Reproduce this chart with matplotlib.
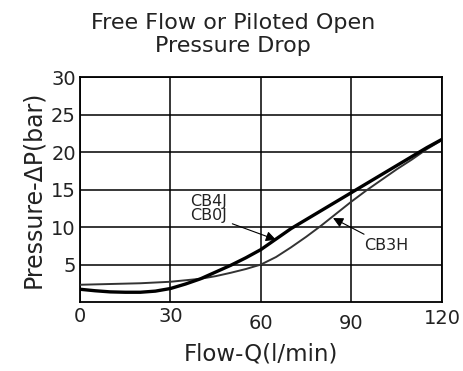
import matplotlib.pyplot as plt

# flow (l/min) and pressure drop (bar)
flow = [0, 5, 10, 15, 20, 25, 30, 35, 40, 45, 50, 55, 60, 65, 70, 75, 80, 85, 90, 95, 100, 105, 110, 115, 120]
dp_cb4j = [1.7, 1.5, 1.35, 1.3, 1.3, 1.45, 1.8, 2.4, 3.1, 4.0, 4.9, 5.9, 7.0, 8.4, 9.8, 11.0, 12.2, 13.4, 14.6, 15.8, 17.0, 18.2, 19.4, 20.6, 21.7]
dp_cb3h = [2.3, 2.35, 2.4, 2.45, 2.5, 2.6, 2.7, 2.9, 3.1, 3.45, 3.9, 4.4, 5.0, 6.0, 7.3, 8.7, 10.2, 11.8, 13.4, 14.9, 16.3, 17.7, 19.0, 20.4, 21.6]

xticks = [0, 30, 60, 90, 120]
yticks = [5, 10, 15, 20, 25, 30]

fig = plt.figure(figsize=(4.64, 3.71), dpi=100)
ax = fig.add_axes([0.1724, 0.186, 0.780, 0.606])

ax.plot(flow, dp_cb3h, color='#333333', lw=1.4, zorder=3)
ax.plot(flow, dp_cb4j, color='black', lw=2.4, zorder=4)

ax.set_xlim(0, 120)
ax.set_ylim(0, 30)
ax.set_xticks(xticks)
ax.set_yticks(yticks)
ax.tick_params(length=0, labelsize=14, colors='#222222')
ax.tick_params(axis='y', pad=3)
# x tick labels sit at slightly uneven heights
for t, p in zip(ax.xaxis.get_major_ticks(), [3.5, 3.5, 8.5, 8.5, 5]):
    t.set_pad(p)
ax.grid(True, color='black', lw=1.1)
for s in ax.spines.values():
    s.set_linewidth(1.3)

# curve labels with pointer arrows
arrow = dict(arrowstyle='-|>', color='black', lw=0.8, mutation_scale=15, shrinkA=2, shrinkB=0)
ax.text(36.5, 13.4, 'CB4J', fontsize=11.5, va='center', ha='left', color='#222222')
ax.annotate('CB0J', xy=(65, 8.3), xytext=(36.5, 11.6), fontsize=11.5, va='center', ha='left',
            color='#222222', arrowprops=arrow)
ax.annotate('CB3H', xy=(83.9, 11.2), xytext=(94.2, 7.5), fontsize=11.5, va='center', ha='left',
            color='#222222', arrowprops=arrow)

ax.set_xlabel('Flow-Q(l/min)', fontsize=16.5, labelpad=7, color='#222222')
ax.set_ylabel('Pressure-ΔP(bar)', fontsize=17, labelpad=4, color='#222222')
fig.text(0.503, 0.965, 'Free Flow or Piloted Open\nPressure Drop', ha='center', va='top',
         fontsize=16, linespacing=1.2, color='#222222')

fig.savefig('out.png', dpi=100)
